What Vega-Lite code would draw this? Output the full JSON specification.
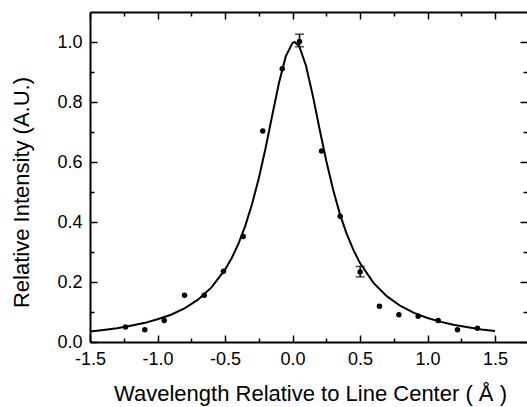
{
  "$schema": "https://vega.github.io/schema/vega-lite/v6.json",
  "autosize": "none",
  "padding": {"left": 90, "top": 12, "right": 0, "bottom": 65},
  "width": 437,
  "height": 330,
  "background": "white",
  "datasets": {
    "curve": [
      {"x": -1.5, "y": 0.035}, {"x": -1.4, "y": 0.040}, {"x": -1.3, "y": 0.046}, {"x": -1.2, "y": 0.054},
      {"x": -1.1, "y": 0.063}, {"x": -1.0, "y": 0.076}, {"x": -0.9, "y": 0.091}, {"x": -0.8, "y": 0.112},
      {"x": -0.7, "y": 0.141}, {"x": -0.6, "y": 0.182}, {"x": -0.5, "y": 0.241}, {"x": -0.45, "y": 0.280},
      {"x": -0.4, "y": 0.328}, {"x": -0.35, "y": 0.387}, {"x": -0.3, "y": 0.459}, {"x": -0.25, "y": 0.545},
      {"x": -0.2, "y": 0.645}, {"x": -0.15, "y": 0.756}, {"x": -0.1, "y": 0.864}, {"x": -0.05, "y": 0.952},
      {"x": 0.0, "y": 0.997}, {"x": 0.015, "y": 1.0}, {"x": 0.05, "y": 0.986}, {"x": 0.1, "y": 0.921},
      {"x": 0.15, "y": 0.822}, {"x": 0.2, "y": 0.711}, {"x": 0.25, "y": 0.604}, {"x": 0.3, "y": 0.509},
      {"x": 0.35, "y": 0.428}, {"x": 0.4, "y": 0.362}, {"x": 0.45, "y": 0.308}, {"x": 0.5, "y": 0.263},
      {"x": 0.6, "y": 0.197}, {"x": 0.7, "y": 0.152}, {"x": 0.8, "y": 0.120}, {"x": 0.9, "y": 0.097},
      {"x": 1.0, "y": 0.080}, {"x": 1.1, "y": 0.067}, {"x": 1.2, "y": 0.057}, {"x": 1.3, "y": 0.049},
      {"x": 1.4, "y": 0.042}, {"x": 1.5, "y": 0.037}
    ],
    "points": [
      {"x": -1.237, "y": 0.050}, {"x": -1.094, "y": 0.041}, {"x": -0.950, "y": 0.072},
      {"x": -0.800, "y": 0.156}, {"x": -0.654, "y": 0.156}, {"x": -0.511, "y": 0.236},
      {"x": -0.365, "y": 0.352}, {"x": -0.220, "y": 0.703}, {"x": -0.076, "y": 0.911},
      {"x": 0.052, "y": 1.002}, {"x": 0.215, "y": 0.637}, {"x": 0.353, "y": 0.419},
      {"x": 0.501, "y": 0.233}, {"x": 0.644, "y": 0.119}, {"x": 0.788, "y": 0.091},
      {"x": 0.931, "y": 0.086}, {"x": 1.079, "y": 0.072}, {"x": 1.222, "y": 0.041},
      {"x": 1.370, "y": 0.046}
    ],
    "err": [
      {"x": 0.052, "lo": 0.984, "hi": 1.026},
      {"x": 0.501, "lo": 0.217, "hi": 0.252}
    ]
  },
  "layer": [
    {
      "data": {"name": "curve"},
      "mark": {"type": "line", "color": "black", "strokeWidth": 2},
      "encoding": {
        "x": {"field": "x", "type": "quantitative",
          "scale": {"domain": [-1.5, 1.737], "nice": false, "zero": false},
          "axis": {"orient": "bottom", "values": [-1.5, -1, -0.5, 0, 0.5, 1, 1.5],
            "tickSize": -7, "labelPadding": 15,
            "labelExpr": "datum.value < 0 ? '-' + format(-datum.value, '.1f') : format(datum.value, '.1f')",
            "title": "Wavelength Relative to Line Center ( Å )",
            "titleX": 220, "titleY": 58, "titleAlign": "center", "titleBaseline": "alphabetic", "titleAngle": 0}},
        "y": {"field": "y", "type": "quantitative",
          "scale": {"domain": [0, 1.1], "nice": false, "zero": false},
          "axis": {"orient": "left", "values": [0, 0.2, 0.4, 0.6, 0.8, 1.0],
            "tickSize": -7, "labelPadding": 15,
            "labelExpr": "format(datum.value, '.1f')",
            "title": "Relative Intensity (A.U.)",
            "titleX": -62, "titleY": 180, "titleAlign": "center", "titleBaseline": "alphabetic", "titleAngle": -90}}
      }
    },
    {
      "data": {"name": "points"},
      "mark": {"type": "point", "filled": true, "color": "black", "size": 30, "opacity": 1},
      "encoding": {
        "x": {"field": "x", "type": "quantitative",
          "scale": {"domain": [-1.5, 1.737], "nice": false, "zero": false},
          "axis": {"orient": "top", "values": [-1.5, -1, -0.5, 0, 0.5, 1, 1.5], "tickSize": -7, "labels": false, "title": null}},
        "y": {"field": "y", "type": "quantitative",
          "scale": {"domain": [0, 1.1], "nice": false, "zero": false},
          "axis": {"orient": "right", "values": [0, 0.2, 0.4, 0.6, 0.8, 1.0], "tickSize": -7, "labels": false, "domain": false, "title": null}}
      }
    },
    {
      "data": {"name": "err"},
      "mark": {"type": "rule", "color": "black", "strokeWidth": 1.5},
      "encoding": {
        "x": {"field": "x", "type": "quantitative",
          "scale": {"domain": [-1.5, 1.737], "nice": false, "zero": false},
          "axis": {"orient": "bottom", "values": [-1.25, -0.75, -0.25, 0.25, 0.75, 1.25], "tickSize": -4, "labels": false, "domain": false, "title": null}},
        "y": {"field": "lo", "type": "quantitative",
          "scale": {"domain": [0, 1.1], "nice": false, "zero": false},
          "axis": {"orient": "left", "values": [0.1, 0.3, 0.5, 0.7, 0.9], "tickSize": -4, "labels": false, "domain": false, "title": null}},
        "y2": {"field": "hi"}
      }
    },
    {
      "data": {"name": "err"},
      "mark": {"type": "tick", "orient": "horizontal", "color": "black", "size": 9, "thickness": 1.5},
      "encoding": {
        "x": {"field": "x", "type": "quantitative",
          "scale": {"domain": [-1.5, 1.737], "nice": false, "zero": false},
          "axis": {"orient": "top", "values": [-1.25, -0.75, -0.25, 0.25, 0.75, 1.25], "tickSize": -4, "labels": false, "domain": false, "title": null}},
        "y": {"field": "lo", "type": "quantitative",
          "scale": {"domain": [0, 1.1], "nice": false, "zero": false},
          "axis": {"orient": "right", "values": [0.1, 0.3, 0.5, 0.7, 0.9], "tickSize": -4, "labels": false, "domain": false, "title": null}}
      }
    },
    {
      "data": {"name": "err"},
      "mark": {"type": "tick", "orient": "horizontal", "color": "black", "size": 9, "thickness": 1.5},
      "encoding": {
        "x": {"field": "x", "type": "quantitative",
          "scale": {"domain": [-1.5, 1.737], "nice": false, "zero": false}, "axis": null},
        "y": {"field": "hi", "type": "quantitative",
          "scale": {"domain": [0, 1.1], "nice": false, "zero": false}, "axis": null}
      }
    }
  ],
  "resolve": {"axis": {"x": "independent", "y": "independent"}},
  "config": {
    "view": {"stroke": null},
    "axis": {
      "grid": false,
      "domainColor": "black", "domainWidth": 2,
      "tickColor": "black", "tickWidth": 1.5,
      "labelColor": "black", "labelFont": "Liberation Sans", "labelFontSize": 18,
      "labelFlush": false, "labelOverlap": false, "labelBound": false,
      "titleColor": "black", "titleFont": "Liberation Sans", "titleFontSize": 22, "titleFontWeight": "normal"
    }
  }
}
